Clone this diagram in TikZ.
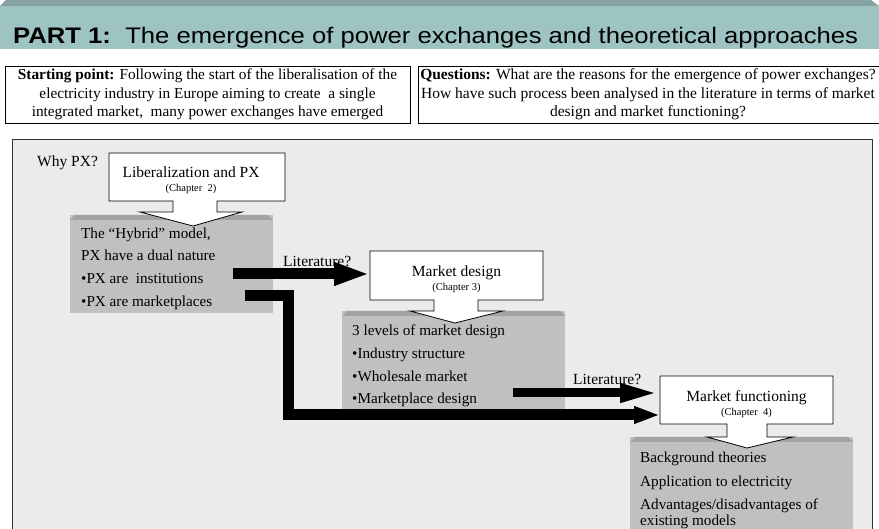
\documentclass[tikz,border=0pt]{standalone}
\usepackage{fontspec}
\setmainfont{Liberation Serif}
\newfontfamily\titlefont{Liberation Sans}
\usetikzlibrary{arrows.meta,calc}
\definecolor{bannerfill}{HTML}{9DC4C2}
\definecolor{bannertop}{HTML}{86A3A1}
\definecolor{panelfill}{HTML}{EBEBEB}
\definecolor{stepfill}{HTML}{C0C0C0}
\definecolor{steptop}{HTML}{A3A3A3}
\tikzset{
  infobox/.style={draw=black, line width=0.8pt, fill=white, inner sep=0pt, align=center,
    font=\fontsize{15.3}{18.5}\selectfont},
  steptext/.style={anchor=north west, inner sep=0pt, align=left, font=\fontsize{15.2}{22.6}\selectfont},
  label/.style={anchor=base west, inner sep=0pt, font=\fontsize{15.5}{17}\selectfont},
  chaptext/.style={inner sep=0pt, align=center},
  bigarrow/.style={line width=11pt, -{Triangle[length=36pt,width=21pt]}},
  midarrow/.style={line width=9pt, -{Triangle[length=40pt,width=17pt]}},
  lowarrow/.style={line width=11pt, line join=miter, -{Triangle[length=26pt,width=16pt]}},
}
\newcommand{\chapname}[2]{{\fontsize{15.5}{17}\selectfont #1}\\[2pt]{\fontsize{10.5}{12}\selectfont #2}}
% callout: box with a short stem and a wide, flat arrow head below it
\newcommand{\callout}[9]{% x1 y1 x2 y2 stemL stemR stemBot headL headR ; tip given by \tipx,\tipy
  \filldraw[draw=black, line width=0.8pt, fill=white]
    (#1,#2) -- (#3,#2) -- (#3,#4) -- (#6,#4) -- (#6,#7) -- (#9,#7)
    -- (\tipx,\tipy) -- (#8,#7) -- (#5,#7) -- (#5,#4) -- (#1,#4) -- cycle;}
\newcommand{\bevelbox}[4]{% x1 y1 x2 y2 : gray step box with a darker bevelled top
  \fill[stepfill] (#1,#2) rectangle (#3,#4);
  \fill[steptop] (#1,#2+5) -- (#1+5,#2) -- (#3-5,#2) -- (#3,#2+5) -- cycle;}
\begin{document}
\begin{tikzpicture}[x=1pt,y=-1pt]
\useasboundingbox (0,0) rectangle (879,529);

% title banner
\fill[bannerfill] (0,6) rectangle (879,49);
\fill[bannertop] (0,6) -- (6,0) -- (871,0) -- (879,6) -- cycle;
\node[anchor=west, inner sep=0pt, font=\titlefont\fontsize{22.5}{26}\selectfont] (title) at (13,38)
  {\scalebox{1.14}[1]{\bfseries PART 1:\mdseries\ \ The emergence of power exchanges and theoretical approaches}};

% starting point and questions
\node[infobox, minimum width=405pt, minimum height=57pt] (start) at (207.5,94.5)
  {\textbf{Starting point:} Following the start of the liberalisation of the\\
   electricity industry in Europe aiming to create\ \ a single\\
   integrated market,\ \ many power exchanges have emerged};
\node[draw=black, line width=0.8pt, fill=white, minimum width=470pt, minimum height=57pt,
  anchor=west, inner sep=0pt] (quest) at (418,94.5) {};
\node[inner sep=0pt, align=center, font=\fontsize{15.5}{18.5}\selectfont] (qtext) at (648,94.5)
  {\textbf{Questions:} What are the reasons for the emergence of power exchanges?\\
   How have such process been analysed in the literature in terms of market\\
   design and market functioning?};

% main panel
\draw[fill=panelfill, line width=0.8pt, draw=black!80] (12,139) rectangle (872,540);
\node[label] (why) at (37,167) {Why PX?};

% gray step boxes
\bevelbox{70}{215}{273}{313}
\coordinate (g1) at (70,215);
\bevelbox{342}{311}{565}{410}
\coordinate (g2) at (342,311);
\bevelbox{630}{437}{853}{540}
\coordinate (g3) at (630,437);

% chapter callouts
\def\tipx{193}\def\tipy{226}
\callout{109}{153}{285}{201}{173}{217}{212}{140}{242}
\node[chaptext] (lib) at (191,180) {\chapname{Liberalization and PX}{(Chapter\ \ 2)}};
\def\tipx{455}\def\tipy{323}
\callout{370}{251}{543}{300}{434}{478}{311}{410}{503}
\node[chaptext] (md) at (456.5,279) {\chapname{Market design}{(Chapter 3)}};
\def\tipx{747}\def\tipy{448}
\callout{660}{376}{833}{424}{727}{767}{437}{707}{793}
\node[chaptext] (mf) at (746.5,404) {\chapname{Market functioning}{(Chapter\ \ 4)}};
\coordinate (mdW) at (370,274);
\coordinate (mfW) at (660,393);
\coordinate (mfW2) at (660,415);

% step texts
\node[steptext] (t1) at ($(g1)+(11,12.5)$)
  {The “Hybrid” model,\\PX have a dual nature\\•PX are\ \ institutions\\•PX are marketplaces};
\node[steptext] (t2) at ($(g2)+(10,14)$)
  {3 levels of market design\\•Industry structure\\•Wholesale market\\•Marketplace design};
\node[steptext, font=\fontsize{15.2}{23.5}\selectfont] (t3) at ($(g3)+(10,15)$)
  {Background theories\\Application to electricity\\Advantages/disadvantages of\\[-8pt]existing models};

% connectors
\coordinate (a1) at (233,274);
\draw[bigarrow] (a1) -- (mdW);
\node[label] (lit1) at (283,267) {Literature?};
\coordinate (a2) at (245,296);
\coordinate (a2b) at (288,296);
\coordinate (a2c) at (288,415);
\draw[lowarrow] (a2) -- (a2b) -- (a2c) -- (mfW2);
\coordinate (a3) at (513,393);
\draw[midarrow] (a3) -- (mfW);
\node[label] (lit2) at (573,385) {Literature?};
\end{tikzpicture}
\end{document}
